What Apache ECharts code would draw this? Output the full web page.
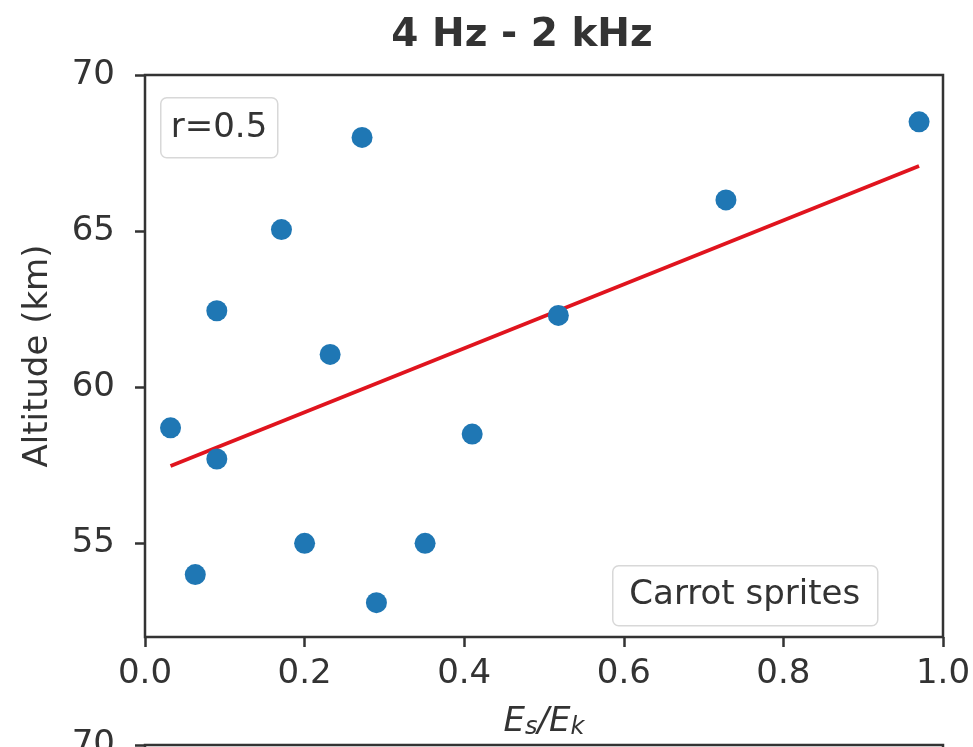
<!DOCTYPE html>
<html>
<head>
<meta charset="utf-8">
<script src="https://cdn.jsdelivr.net/npm/echarts@6/dist/echarts.min.js"></script>
<style>
  html, body { margin: 0; padding: 0; background: #fff; }
  #chart { width: 973px; height: 747px; }
</style>
</head>
<body>
<div id="chart"></div>
<script>
// Energy ratio Es/Ek versus altitude for carrot sprites, 4 Hz - 2 kHz band
const energyRatio = [0.032, 0.063, 0.090, 0.090, 0.171, 0.200, 0.232, 0.272, 0.290, 0.351, 0.410, 0.518, 0.728, 0.970];
const altitudeKm  = [58.7, 54.0, 62.45, 57.7, 65.05, 55.0, 61.05, 68.0, 53.1, 55.0, 58.5, 62.3, 66.0, 68.5];
const xTickValues = [0.0, 0.2, 0.4, 0.6, 0.8, 1.0];
const yTickValues = [55, 60, 65, 70];

const FONT = 'DejaVu Sans';
const INK = '#333333';

// Least-squares fit and Pearson r
const n = energyRatio.length;
const mx = energyRatio.reduce((a, b) => a + b, 0) / n;
const my = altitudeKm.reduce((a, b) => a + b, 0) / n;
let sxy = 0, sxx = 0, syy = 0;
for (let i = 0; i < n; i++) {
  const dx = energyRatio[i] - mx, dy = altitudeKm[i] - my;
  sxy += dx * dy; sxx += dx * dx; syy += dy * dy;
}
const slope = sxy / sxx;
const intercept = my - slope * mx;
const r = sxy / Math.sqrt(sxx * syy);
const xMin = Math.min(...energyRatio), xMax = Math.max(...energyRatio);
const fitLine = [[xMin, intercept + slope * xMin], [xMax, intercept + slope * xMax]];

const chart = echarts.init(document.getElementById('chart'), null, { renderer: 'canvas' });

const tickLabel = { color: INK, fontFamily: FONT, fontSize: 34 };

chart.setOption({
  animation: false,
  backgroundColor: '#ffffff',
  title: {
    text: '4 Hz - 2 kHz',
    left: 517, textAlign: 'center', top: 11,
    textStyle: { fontFamily: FONT, fontWeight: 'bold', fontSize: 39, color: INK }
  },
  grid: [
    { left: 145, right: 30, top: 75, bottom: 110, outerBoundsMode: 'none', containLabel: false,
      show: true, borderColor: INK, borderWidth: 2.5, backgroundColor: 'transparent' },
    // top edge of the next panel below
    { left: 145, right: 30, top: 745, height: 562, outerBoundsMode: 'none', containLabel: false,
      show: true, borderColor: INK, borderWidth: 2.5, backgroundColor: 'transparent' }
  ],
  xAxis: [
    {
      type: 'value', gridIndex: 0, min: 0, max: 1,
      splitLine: { show: false },
      axisLine: { show: false },
      axisTick: { show: true, length: 10, lineStyle: { color: INK, width: 2.5 }, customValues: xTickValues },
      axisLabel: Object.assign({ margin: 20, customValues: xTickValues, formatter: v => v.toFixed(1) }, tickLabel),
      name: '{i|E}{s|s}{i|/E}{s|k}',
      nameLocation: 'middle', nameGap: 67,
      nameTextStyle: {
        verticalAlign: 'top',
        rich: {
          i: { fontFamily: FONT, fontStyle: 'italic', fontSize: 34, color: INK },
          s: { fontFamily: FONT, fontStyle: 'italic', fontSize: 24, color: INK, verticalAlign: 'bottom', padding: [12, 0, 0, 0] }
        }
      }
    },
    {
      type: 'value', gridIndex: 1, min: 0, max: 1,
      splitLine: { show: false }, axisLine: { show: false },
      axisTick: { show: false }, axisLabel: { show: false }
    }
  ],
  yAxis: [
    {
      type: 'value', gridIndex: 0, min: 52, max: 70,
      splitLine: { show: false },
      axisLine: { show: false },
      axisTick: { show: true, length: 10, lineStyle: { color: INK, width: 2.5 }, customValues: yTickValues },
      axisLabel: Object.assign({ margin: 30, customValues: yTickValues }, tickLabel),
      name: 'Altitude (km)',
      nameLocation: 'middle', nameGap: 90,
      nameTextStyle: { fontFamily: FONT, fontSize: 34, color: INK }
    },
    {
      type: 'value', gridIndex: 1, min: 52, max: 70,
      splitLine: { show: false }, axisLine: { show: false },
      axisTick: { show: true, length: 10, lineStyle: { color: INK, width: 2.5 }, customValues: [70] },
      axisLabel: Object.assign({ margin: 30, customValues: [70] }, tickLabel)
    }
  ],
  series: [
    {
      type: 'line', xAxisIndex: 0, yAxisIndex: 0,
      data: fitLine, showSymbol: false, z: 2,
      lineStyle: { color: '#e0141e', width: 3.8 }
    },
    {
      type: 'scatter', xAxisIndex: 0, yAxisIndex: 0,
      data: energyRatio.map((x, i) => [x, altitudeKm[i]]),
      symbol: 'circle', symbolSize: 21, z: 3,
      itemStyle: { color: '#1f77b4', opacity: 1 }
    }
  ],
  graphic: [
    {
      type: 'group', left: 160, top: 97,
      children: [
        { type: 'rect', shape: { x: 0, y: 0, width: 117, height: 60, r: 6 },
          style: { fill: 'rgba(255,255,255,0.85)', stroke: '#d8d8d8', lineWidth: 1.5 } },
        { type: 'text', x: 10, y: 30,
          style: { text: 'r=' + r.toFixed(1), fontFamily: FONT, fontSize: 34, fill: INK, verticalAlign: 'middle' } }
      ]
    },
    {
      type: 'group', left: 612, top: 565,
      children: [
        { type: 'rect', shape: { x: 0, y: 0, width: 265, height: 60, r: 6 },
          style: { fill: 'rgba(255,255,255,0.85)', stroke: '#d8d8d8', lineWidth: 1.5 } },
        { type: 'text', x: 132, y: 29,
          style: { text: 'Carrot sprites', fontFamily: FONT, fontSize: 34, fill: INK, align: 'center', verticalAlign: 'middle' } }
      ]
    }
  ]
});
</script>
</body>
</html>
